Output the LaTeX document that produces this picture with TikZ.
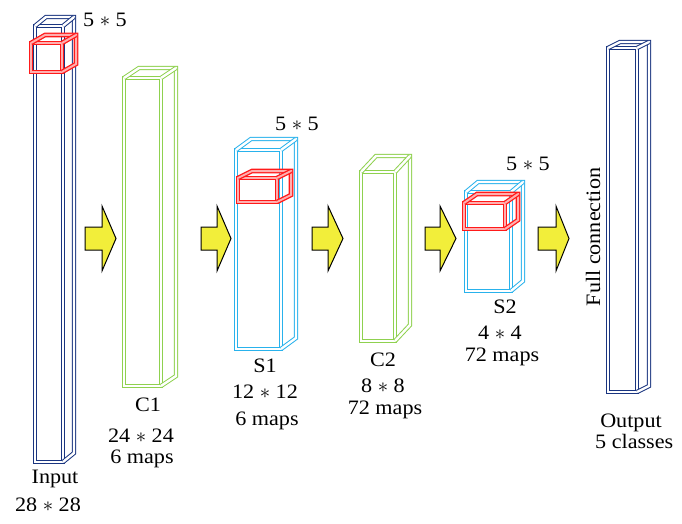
\documentclass[tikz,border=0pt]{standalone}
\usepackage{fontspec}
\setmainfont[FakeStretch=1.08]{Liberation Serif}
\definecolor{navy}{HTML}{1A3580}
\definecolor{lgreen}{HTML}{8FD14F}
\definecolor{skyc}{HTML}{29B2EC}
\definecolor{ared}{HTML}{FF1A1A}
\definecolor{ayellow}{HTML}{F2EE3A}
\tikzset{
 wire/.style={draw=#1, line width=1pt, double=white, double distance=2.4pt, line join=miter},
 redwire/.style={draw=ared, line width=1.3pt, double=ared!35, double distance=2pt, line join=miter},
 lbl/.style={font=\fontsize{20.5}{24}\selectfont, inner sep=0pt, anchor=base},
 yarrow/.style={fill=ayellow, draw=black, line width=1pt, line join=miter}
}
% style, x, y, w, h, dx, dy(up)
\newcommand\mycuboid[7]{%
 \draw[#1] ({#2},{#3}) rectangle ({#2+#4},{#3+#5});
 \draw[#1] ({#2},{#3}) -- ({#2+#6},{#3-#7}) -- ({#2+#4+#6},{#3-#7}) -- ({#2+#4+#6},{#3+#5-#7}) -- ({#2+#4},{#3+#5});
 \draw[#1] ({#2+#4},{#3}) -- ({#2+#4+#6},{#3-#7});
}
% shaft left, head back, tip
\newcommand\myarrow[3]{%
 \draw[yarrow] ({#1},227) -- ({#2},227) -- ({#2},206) -- ({#3},238.5) -- ({#2},271) -- ({#2},250) -- ({#1},250) -- cycle;
}
\begin{document}
\begin{tikzpicture}[x=1pt,y=-1pt]
\useasboundingbox[fill=white] (0,0) rectangle (682,524);
% columns
\mycuboid{wire=navy}{35}{26}{28}{436}{11}{9}
\mycuboid{wire=lgreen}{124}{78}{37}{308}{15}{10}
\mycuboid{wire=skyc}{236}{150}{45}{199}{15}{11}
\mycuboid{wire=lgreen}{361}{172}{34}{169}{15}{16}
\mycuboid{wire=skyc}{466}{192}{45}{99}{12}{10}
\mycuboid{wire=navy}{608}{48}{29}{344}{12}{6}
% kernels
\mycuboid{redwire}{31}{43}{31}{29}{14}{8}
\mycuboid{redwire}{238}{178}{39}{24}{14}{7}
\mycuboid{redwire}{464}{203}{41}{26}{13}{9}
% arrows
\myarrow{85}{102}{116}
\myarrow{201}{217}{231}
\myarrow{312}{328}{343}
\myarrow{425}{440}{456}
\myarrow{538}{556}{569}
% labels
\node[lbl] (k0) at (105,27) {5 $\ast$ 5};
\node[lbl] (tin) at (55,483) {Input};
\begin{scope}
\clip (0,0) rectangle (682,510);
\node[lbl] (tin2) at (48,511) {28 $\ast$ 28};
\end{scope}
\node[lbl] (tc1) at (148,411) {C1};
\node[lbl] (tc1a) at (141,442) {24 $\ast$ 24};
\node[lbl] (tc1b) at (142,463) {6 maps};
\node[lbl] (ts1) at (265,372) {S1};
\node[lbl] (ts1a) at (265,398) {12 $\ast$ 12};
\node[lbl] (ts1b) at (267,425) {6 maps};
\node[lbl] (tc2) at (383,366) {C2};
\node[lbl] (tc2a) at (383,392) {8 $\ast$ 8};
\node[lbl] (tc2b) at (385,414) {72 maps};
\node[lbl] (ts2) at (505,313) {S2};
\node[lbl] (ts2a) at (500,339) {4 $\ast$ 4};
\node[lbl] (ts2b) at (502,361) {72 maps};
\node[lbl] (k1) at (297,130) {5 $\ast$ 5};
\node[lbl] (k2) at (528,170) {5 $\ast$ 5};
\node[lbl] (tout) at (631,427) {Output};
\node[lbl, anchor=base west] (tout2) at (595,448) {5 classes};
\node[lbl, rotate=90] (tfc) at (600,237) {Full connection};
\end{tikzpicture}
\end{document}
